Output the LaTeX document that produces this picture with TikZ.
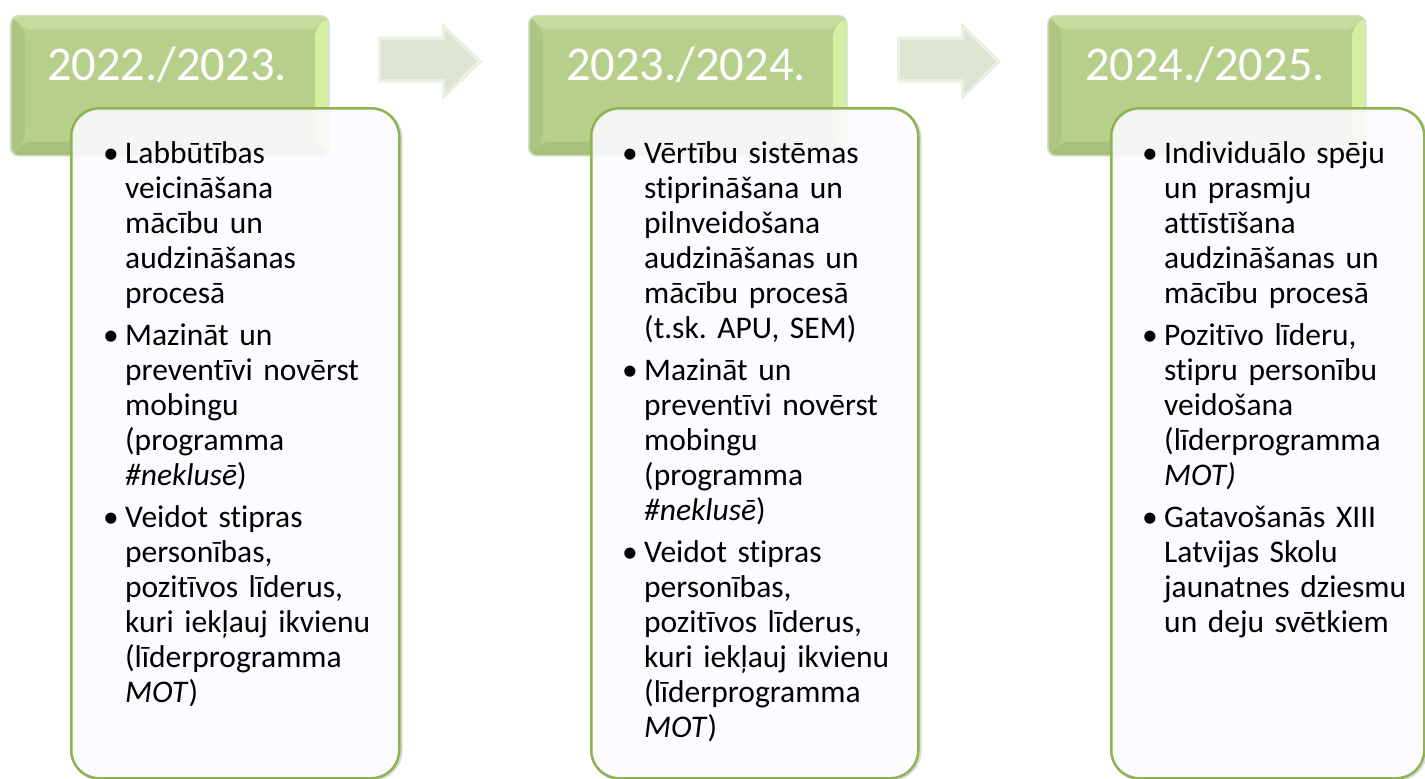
\documentclass[tikz,border=0pt]{standalone}
\usepackage{fontspec}
\setmainfont{Carlito}[Ligatures=NoCommon]
\usetikzlibrary{calc}
\definecolor{hcenter}{HTML}{B8CE8B}
\definecolor{htop}{HTML}{C6DC9D}
\definecolor{hleft}{HTML}{ADC583}
\definecolor{hright}{HTML}{D5EFA2}
\definecolor{hbottom}{HTML}{A8C07E}
\definecolor{hglow}{HTML}{D3DEC2}
\definecolor{aface}{HTML}{DCE5D1}
\definecolor{atop}{HTML}{EBF1E4}
\definecolor{abot}{HTML}{C4D0B6}
\definecolor{boxfill}{HTML}{FCFBFF}
\definecolor{boxline}{HTML}{8DB451}
\newcommand\bl{\makebox[22bp][l]{\textbullet}\strut}
\newcommand\il{\hspace*{22bp}}
\begin{document}
\frenchspacing
\begin{tikzpicture}[x=1bp,y=-1bp,
  hdr/.style={anchor=north west, inner sep=0, minimum width=318bp, minimum height=140bp,
    rounded corners=8bp, fill=hcenter, draw=hglow, line width=1.5bp,
    path picture={
      \fill[htop] (path picture bounding box.north west) -- (path picture bounding box.north east)
        -- ([shift={(-14bp,-14bp)}]path picture bounding box.north east)
        -- ([shift={(14bp,-14bp)}]path picture bounding box.north west) -- cycle;
      \fill[hleft] (path picture bounding box.north west) -- ([shift={(14bp,-14bp)}]path picture bounding box.north west)
        -- ([shift={(14bp,14bp)}]path picture bounding box.south west) -- (path picture bounding box.south west) -- cycle;
      \fill[hright] (path picture bounding box.north east) -- ([shift={(-14bp,-14bp)}]path picture bounding box.north east)
        -- ([shift={(-14bp,14bp)}]path picture bounding box.south east) -- (path picture bounding box.south east) -- cycle;
      \fill[hbottom] (path picture bounding box.south west) -- ([shift={(14bp,14bp)}]path picture bounding box.south west)
        -- ([shift={(-14bp,14bp)}]path picture bounding box.south east) -- (path picture bounding box.south east) -- cycle;
    }},
  yeartxt/.style={text=white, font=\fontsize{48.5bp}{52bp}\selectfont, inner sep=0, anchor=base},
  card/.style={anchor=north west, draw=boxline, line width=2.5bp, fill=boxfill, fill opacity=0.9,
    rounded corners=28bp, inner sep=0},
  cardshadow/.style={draw=black, line width=3bp, opacity=0.15, rounded corners=28bp},
  body/.style={anchor=north west, inner sep=0, text width=310bp, align=left,
    font=\fontsize{31.5bp}{35bp}\selectfont},
]
\fill[white] (0,0) rectangle (1425,778);
\useasboundingbox (0,0) rectangle (1425,778);

% headers
\node[hdr] (h1) at (10,15) {};
\node[hdr] (h2) at (528,15) {};
\node[hdr] (h3) at (1047,15) {};
\node[yeartxt] (y1) at (167,80) {2022./2023.};
\node[yeartxt] (y2) at (686,80) {2023./2024.};
\node[yeartxt] (y3) at (1205,80) {2024./2025.};

% arrows
\foreach \ax in {378,897}{
  \begin{scope}
    \clip (\ax,37) -- (\ax+64,37) -- (\ax+64,23) -- (\ax+104,61.5) -- (\ax+64,100) -- (\ax+64,82) -- (\ax,82) -- cycle;
    \fill[abot] (\ax,20) rectangle (\ax+106,103);
    \fill[atop] (\ax,37) -- (\ax+64,37) -- (\ax+64,23) -- (\ax+104,61.5) -- (\ax+64,100) -- (\ax+64,82) -- (\ax,82) -- cycle;
    \fill[aface] (\ax+3,40) -- (\ax+67,40) -- (\ax+67,30) -- (\ax+99,61.5) -- (\ax+67,94) -- (\ax+67,79) -- (\ax+3,79) -- cycle;
  \end{scope}
}

% card shadows
\draw[cardshadow] (72,110) rectangle (401,779);
\draw[cardshadow] (592,110) rectangle (920,779);
\draw[cardshadow] (1112,110) rectangle (1426,779);
% cards
\node[card, minimum width=328bp, minimum height=670bp] (c1) at (70,107) {};
\node[card, minimum width=327bp, minimum height=670bp] (c2) at (590,107) {};
\node[card, minimum width=313bp, minimum height=670bp] (c3) at (1110,107) {};

% texts
\node[body] (t1) at (103,138.5) {%
\bl Labbūtības\\
\il veicināšana\\
\il mācību un\\
\il audzināšanas\\
\il procesā\\[7bp]
\bl Mazināt un\\
\il preventīvi novērst\\
\il mobingu\\
\il (programma\\
\il \textit{\#neklusē})\\[7bp]
\bl Veidot stipras\\
\il personības,\\
\il pozitīvos līderus,\\
\il kuri iekļauj ikvienu\\
\il (līderprogramma\\
\il \textit{MOT})};

\node[body] (t2) at (622,138.5) {%
\bl Vērtību sistēmas\\
\il stiprināšana un\\
\il pilnveidošana\\
\il audzināšanas un\\
\il mācību procesā\\
\il (t.sk. APU, SEM)\\[7bp]
\bl Mazināt un\\
\il preventīvi novērst\\
\il mobingu\\
\il (programma\\
\il \textit{\#neklusē})\\[7bp]
\bl Veidot stipras\\
\il personības,\\
\il pozitīvos līderus,\\
\il kuri iekļauj ikvienu\\
\il (līderprogramma\\
\il \textit{MOT})};

\node[body] (t3) at (1142,138.5) {%
\bl Individuālo spēju\\
\il un prasmju\\
\il attīstīšana\\
\il audzināšanas un\\
\il mācību procesā\\[7bp]
\bl Pozitīvo līderu,\\
\il stipru personību\\
\il veidošana\\
\il (līderprogramma\\
\il \textit{MOT)}\\[7bp]
\bl Gatavošanās XIII\\
\il Latvijas Skolu\\
\il jaunatnes dziesmu\\
\il un deju svētkiem};
\end{tikzpicture}
\end{document}
